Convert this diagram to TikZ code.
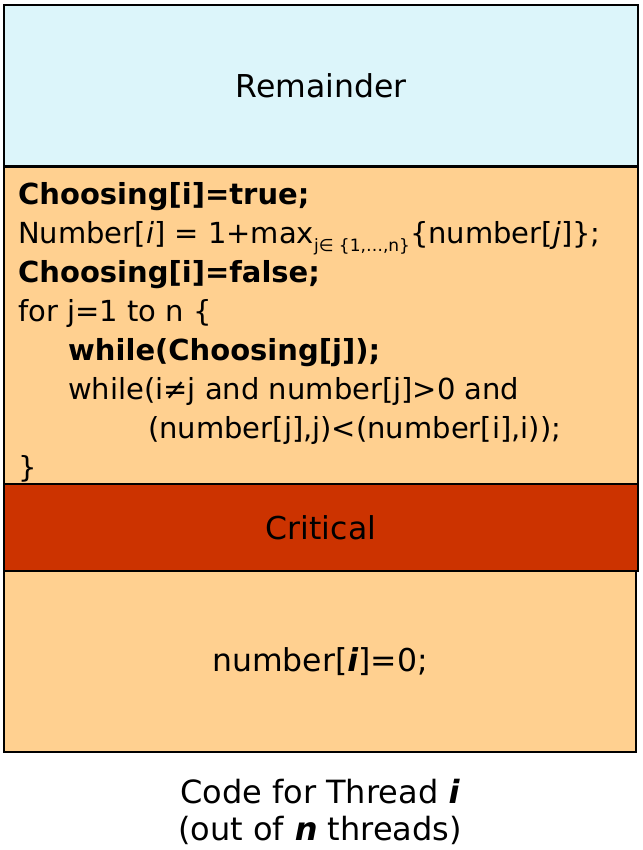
\documentclass[tikz,border=0pt]{standalone}
\usepackage{fontspec}
\setmainfont{DejaVu Sans}
\usetikzlibrary{positioning}
\definecolor{remBlue}{RGB}{220,245,250}
\definecolor{secPeach}{RGB}{255,208,144}
\definecolor{critRed}{RGB}{204,51,0}

\tikzset{
  sect/.style={draw=black, line width=1.5pt, outer sep=0pt, minimum width=634pt, inner sep=0pt,
    font=\fontsize{31.5}{31.5}\selectfont},
  code/.style={align=left, inner sep=0pt, font=\fontsize{29}{39}\selectfont}
}

\begin{document}
\begin{tikzpicture}[x=1pt, y=1pt]
  \useasboundingbox (0,0) rectangle (642,-850);

  % Sections of the thread
  \node[sect, fill=remBlue, minimum height=162pt, anchor=north west] (remainder) at (4,-5) {Remainder};
  \node[sect, fill=secPeach, minimum height=317pt, below=0pt of remainder] (entry) {};
  \node[sect, fill=critRed, minimum height=87pt, below=0pt of entry] (critical) {Critical};
  \node[sect, fill=secPeach, minimum height=181pt, minimum width=632pt, below=0pt of critical.south west, anchor=north west] (exitsec) {number[\textbf{\textit{i}}]=0;};
  \draw[line width=3pt] (remainder.south west) -- (remainder.south east);

  % Entry code
  \node[code, anchor=north west] (entrycode) at ([xshift=14pt, yshift=-15pt]entry.north west) {%
    \textbf{Choosing[i]=true;}\\
    Number[\textit{i}] = 1+max{\fontsize{17}{17}\selectfont\raisebox{-8pt}{j∈ \{1,…,n\}}}\{number[\textit{j}]\};\\
    \textbf{Choosing[i]=false;}\\
    for j=1 to n \{\\
    \hspace*{50pt}\textbf{while(Choosing[j]);}\\
    \hspace*{50pt}while(i≠j and number[j]>0 and\\
    \hspace*{130pt}(number[j],j)<(number[i],i));\\
    \}};

  % Caption
  \node[align=center, inner sep=0pt, font=\fontsize{32}{37}\selectfont, below=27pt of exitsec] (caption)
    {Code for Thread \textbf{\textit{i}}\\(out of \textbf{\textit{n}} threads)};
\end{tikzpicture}
\end{document}
